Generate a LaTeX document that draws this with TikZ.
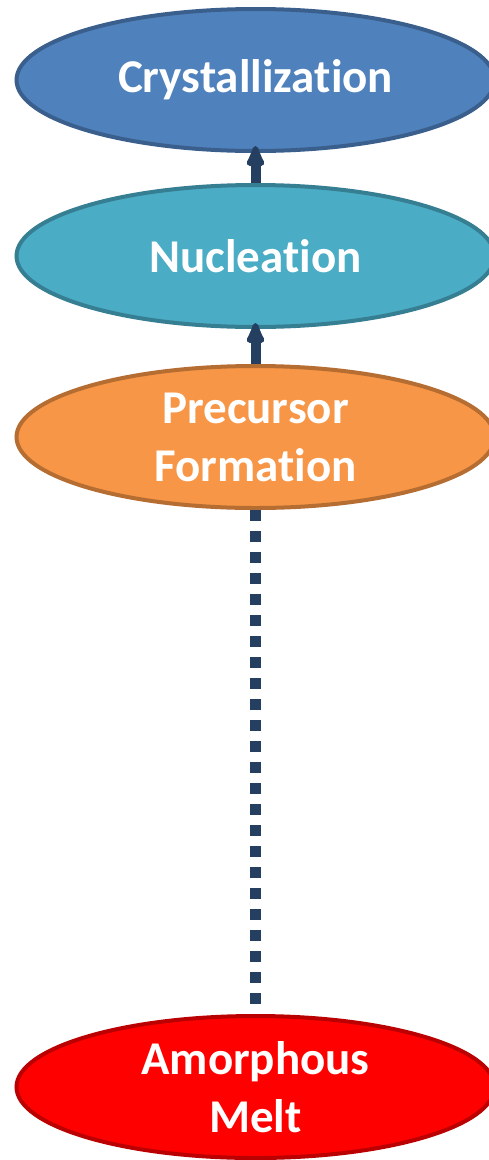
\documentclass[tikz,border=0pt]{standalone}
\usepackage{fontspec}
\setmainfont[Ligatures={NoCommon,NoRare,NoContextual}]{Carlito}
\usetikzlibrary{arrows.meta,shapes.geometric}
\definecolor{cryfill}{HTML}{4F81BD}
\definecolor{cryline}{HTML}{3A5F8C}
\definecolor{nucfill}{HTML}{4BACC6}
\definecolor{nucline}{HTML}{367E91}
\definecolor{prefill}{HTML}{F79646}
\definecolor{preline}{HTML}{B56D32}
\definecolor{amofill}{HTML}{FF0000}
\definecolor{amoline}{HTML}{BA0000}
\definecolor{navy}{HTML}{243F60}
\newcommand{\tisep}{t\kern0pt i}
\tikzset{
  stage/.style={ellipse, draw, line width=4pt, minimum width=478pt, minimum height=142pt,
    inner sep=0pt, align=center, text=white,
    font=\fontsize{47}{58}\selectfont\bfseries},
  arr/.style={navy, line width=10pt, -{Latex[length=28pt,width=22pt,round]}},
  dots/.style={navy, line width=10.5pt, dash pattern=on 10.5pt off 10.5pt}
}
\begin{document}
\begin{tikzpicture}[x=1pt,y=-1pt]
\useasboundingbox (0,0) rectangle (489,1160);
\clip (0,0) rectangle (489,1160);
\node[stage, fill=cryfill, draw=cryline] (cry) at (255.5,80) {Crystalliza\tisep on};
\node[stage, fill=nucfill, draw=nucline] (nuc) at (255.5,256) {Nuclea\tisep on};
\node[stage, fill=prefill, draw=preline] (pre) at (255.5,437) {Precursor\\Forma\tisep on};
\node[stage, fill=amofill, draw=amoline] (amo) at (255.5,1087) {Amorphous\\Melt};
\draw[arr, shorten >=-7pt] (nuc.north) -- (cry.south);
\draw[arr, shorten >=-6pt] (pre.north) -- (nuc.south);
\draw[dots, shorten >=9pt] (pre.south) -- (amo.north);
\end{tikzpicture}
\end{document}
